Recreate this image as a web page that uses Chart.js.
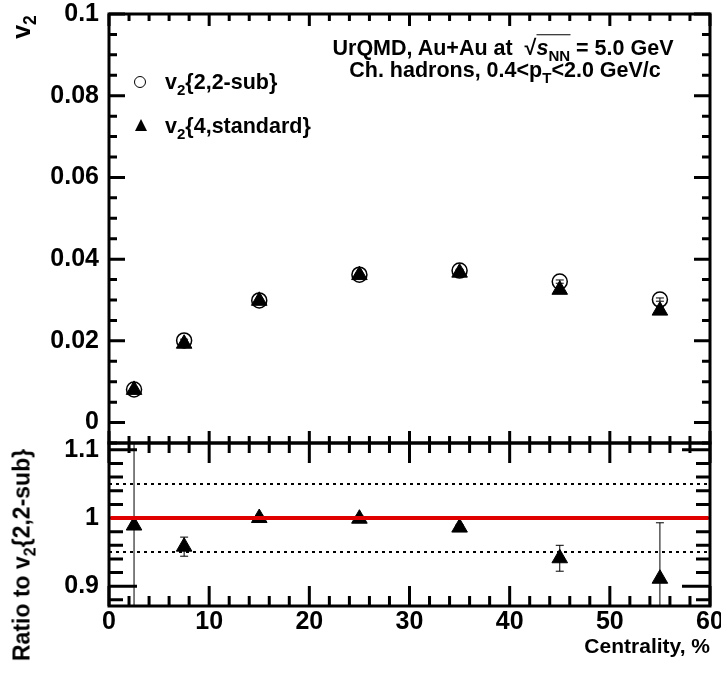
<!DOCTYPE html>
<html>
<head>
<meta charset="utf-8">
<script src="https://cdn.jsdelivr.net/npm/chart.js@4.4.0/dist/chart.umd.min.js"></script>
<style>
  body { margin: 0; background: #fff; }
  #wrap { position: relative; width: 721px; height: 678px; font-family: "Liberation Sans", Arial, sans-serif; font-weight: bold; color: #000; }
  canvas { position: absolute; left: 0; top: 0; }
  .lbl { position: absolute; white-space: nowrap; line-height: 1; }
  .lbl sub { font-size: 70%; vertical-align: -0.35em; line-height: 0; }
  .rot { transform: translate(-50%, -50%) rotate(-90deg); }
  .mid { transform: translate(-50%, -50%); }
  .left { transform: translate(0, -50%); }
  .circ { position: absolute; width: 10px; height: 10px; border: 1.5px solid #000; border-radius: 50%; transform: translate(-50%, -50%); }
  .tri { position: absolute; width: 0; height: 0; border-left: 6.5px solid transparent; border-right: 6.5px solid transparent; border-bottom: 12px solid #000; transform: translate(-50%, -50%); }
  .ov { border-top: 1.5px solid #000; padding-top: 1px; }
</style>
</head>
<body>
<div id="wrap">
  <canvas id="topc" width="721" height="678"></canvas>
  <canvas id="botc" width="721" height="678"></canvas>

  <div class="lbl rot" style="left:21px; top:27px; font-size:25px;">v<sub>2</sub></div>
  <div class="lbl rot" style="left:22px; top:555px; font-size:23px;">Ratio to v<sub>2</sub>{2,2-sub}</div>

  <div class="circ" style="left:140px; top:82px;"></div>
  <div class="lbl left" style="left:165px; top:83px; font-size:21.5px;">v<sub>2</sub>{2,2-sub}</div>
  <div class="tri" style="left:141px; top:125px;"></div>
  <div class="lbl left" style="left:165px; top:127px; font-size:21.5px;">v<sub>2</sub>{4,standard}</div>

  <div class="lbl mid" style="left:503px; top:49px; font-size:21.5px;">UrQMD, Au+Au at &nbsp;√<span class="ov"><i>s</i><sub>NN</sub></span> = 5.0 GeV</div>
  <div class="lbl mid" style="left:505px; top:71px; font-size:21.5px;">Ch. hadrons, 0.4&lt;p<sub>T</sub>&lt;2.0 GeV/c</div>
</div>

<script>
// centrality bins (%)
var centrality = [2.5, 7.5, 15, 25, 35, 45, 55];
// v2{2,2-sub}
var v2sub = [0.0081, 0.0201, 0.0299, 0.0362, 0.0372, 0.0345, 0.0301];
var v2subErr = [0.0003, 0.0003, 0.0003, 0.0003, 0.0003, 0.0004, 0.0004];
// v2{4,standard}
var v2four = [0.0080, 0.0193, 0.0298, 0.0361, 0.0367, 0.0325, 0.0274];
var v2fourErr = [0.0006, 0.0004, 0.0004, 0.0004, 0.0004, 0.0005, 0.0009];
// ratio v2{4}/v2{2,2-sub}
var ratio = [0.989, 0.958, 1.0, 0.999, 0.986, 0.941, 0.911];
var ratioErr = [0.15, 0.014, 0.004, 0.004, 0.004, 0.019, 0.082];

var xTicks = [0, 10, 20, 30, 40, 50, 60];
var topTicks = [0, 0.02, 0.04, 0.06, 0.08, 0.1];
var ratioTicks = [0.9, 1, 1.1];
var unityLine = [1];
var bandLines = [0.95, 1.05];

var font = { family: 'Liberation Sans', size: 25, weight: 'bold' };

function pts(ys) {
  return centrality.map(function (c, i) { return { x: c, y: ys[i] }; });
}

// ROOT style frame with inward ticks on all four sides
var rootFrame = {
  id: 'rootFrame',
  afterDraw: function (chart, args, o) {
    var ctx = chart.ctx, a = chart.chartArea, xs = chart.scales.x, ys = chart.scales.y;
    ctx.save();
    ctx.strokeStyle = '#000';
    ctx.lineWidth = 3;
    ctx.beginPath();
    var v, p, major, len;
    for (v = Math.ceil(xs.min / o.xMinor) * o.xMinor; v <= xs.max + 1e-9; v += o.xMinor) {
      p = xs.getPixelForValue(v);
      major = Math.abs(v / o.xMajor - Math.round(v / o.xMajor)) < 1e-6;
      len = major ? o.xMaj : o.xMin;
      ctx.moveTo(p, a.bottom); ctx.lineTo(p, a.bottom - len);
      ctx.moveTo(p, a.top); ctx.lineTo(p, a.top + len);
    }
    for (v = Math.ceil(ys.min / o.yMinor - 1e-6) * o.yMinor; v <= ys.max + 1e-9; v += o.yMinor) {
      p = ys.getPixelForValue(v);
      major = Math.abs(v / o.yMajor - Math.round(v / o.yMajor)) < 1e-6;
      len = major ? o.yMaj : o.yMin;
      ctx.moveTo(a.left, p); ctx.lineTo(a.left + len, p);
      ctx.moveTo(a.right, p); ctx.lineTo(a.right - len, p);
    }
    ctx.stroke();
    ctx.strokeRect(a.left, a.top, a.right - a.left, a.bottom - a.top);
    ctx.restore();
  }
};

function hLines(chart, list) {
  var ctx = chart.ctx, a = chart.chartArea, ys = chart.scales.y;
  (list || []).forEach(function (l) {
    l.values.forEach(function (val) {
      var p = ys.getPixelForValue(val);
      ctx.strokeStyle = l.color;
      ctx.lineWidth = l.width;
      ctx.setLineDash(l.dash || []);
      ctx.beginPath();
      ctx.moveTo(a.left, p); ctx.lineTo(a.right, p);
      ctx.stroke();
    });
  });
  ctx.setLineDash([]);
}

// vertical error bars and horizontal reference lines
var extras = {
  id: 'extras',
  beforeDatasetsDraw: function (chart, args, o) {
    var ctx = chart.ctx, a = chart.chartArea, ys = chart.scales.y;
    ctx.save();
    ctx.beginPath();
    ctx.rect(a.left, a.top, a.right - a.left, a.bottom - a.top);
    ctx.clip();
    hLines(chart, o.lines);
    ctx.strokeStyle = '#000';
    ctx.lineWidth = 1;
    chart.data.datasets.forEach(function (ds, i) {
      if (!ds.errors) return;
      chart.getDatasetMeta(i).data.forEach(function (el, j) {
        var val = ds.data[j].y, e = ds.errors[j];
        var y1 = ys.getPixelForValue(val + e), y2 = ys.getPixelForValue(val - e);
        ctx.beginPath();
        ctx.moveTo(el.x, y1); ctx.lineTo(el.x, y2);
        ctx.moveTo(el.x - 4, y1); ctx.lineTo(el.x + 4, y1);
        ctx.moveTo(el.x - 4, y2); ctx.lineTo(el.x + 4, y2);
        ctx.stroke();
      });
    });
    ctx.restore();
  },
  afterDraw: function (chart, args, o) {
    var a = chart.chartArea;
    chart.ctx.save();
    chart.ctx.beginPath();
    chart.ctx.rect(a.left + 1.5, a.top, a.right - a.left - 3, a.bottom - a.top);
    chart.ctx.clip();
    hLines(chart, o.topLines);
    chart.ctx.restore();
  }
};

function yAxis(min, max, ticks) {
  return {
    min: min, max: max,
    afterBuildTicks: function (s) { s.ticks = ticks.map(function (v) { return { value: v }; }); },
    afterFit: function (s) { s.width = 109; s.paddingTop = 0; s.paddingBottom = 0; },
    grid: { display: false, drawTicks: false },
    border: { display: false },
    ticks: { font: font, color: '#000', padding: 10, callback: function (v) { return String(+v.toFixed(3)); } }
  };
}

new Chart(document.getElementById('topc'), {
  type: 'scatter',
  data: {
    datasets: [
      { label: 'v2{4,standard}', data: pts(v2four), errors: v2fourErr, pointStyle: 'triangle', radius: 9,
        backgroundColor: '#000', borderColor: '#000', borderWidth: 1 },
      { label: 'v2{2,2-sub}', data: pts(v2sub), errors: v2subErr, pointStyle: 'circle', radius: 7.5,
        backgroundColor: 'rgba(0,0,0,0)', borderColor: '#000', borderWidth: 1.5 }
    ]
  },
  options: {
    responsive: false, animation: false, events: [],
    layout: { padding: { left: 0, right: 11, top: 14, bottom: 235 } },
    scales: {
      x: { type: 'linear', min: 0, max: 60, display: false },
      y: yAxis(-0.005, 0.1, topTicks)
    },
    plugins: {
      legend: { display: false }, tooltip: { enabled: false },
      rootFrame: { xMajor: 10, xMinor: 2, yMajor: 0.02, yMinor: 0.005, xMaj: 12, xMin: 7, yMaj: 16, yMin: 8 },
      extras: {}
    }
  },
  plugins: [rootFrame, extras]
});

new Chart(document.getElementById('botc'), {
  type: 'scatter',
  data: {
    datasets: [
      { label: 'ratio', data: pts(ratio), errors: ratioErr, pointStyle: 'triangle', radius: 9,
        backgroundColor: '#000', borderColor: '#000', borderWidth: 1 }
    ]
  },
  options: {
    responsive: false, animation: false, events: [],
    layout: { padding: { left: 0, right: 11, top: 443, bottom: 14 } },
    scales: {
      x: {
        type: 'linear', min: 0, max: 60,
        afterBuildTicks: function (s) { s.ticks = xTicks.map(function (v) { return { value: v }; }); },
        afterFit: function (s) { s.height = 58; s.paddingLeft = 0; s.paddingRight = 0; },
        grid: { display: false, drawTicks: false },
        border: { display: false },
        ticks: { font: font, color: '#000', padding: 1, maxRotation: 0 },
        title: { display: true, text: 'Centrality, %', align: 'end', color: '#000',
          font: { family: 'Liberation Sans', size: 21, weight: 'bold' }, padding: { top: 4, bottom: 4 } }
      },
      y: yAxis(0.871, 1.11, ratioTicks)
    },
    plugins: {
      legend: { display: false }, tooltip: { enabled: false },
      rootFrame: { xMajor: 10, xMinor: 2, yMajor: 0.1, yMinor: 0.02, xMaj: 20, xMin: 10, yMaj: 28, yMin: 14 },
      extras: {
        lines: [{ values: bandLines, color: '#000', width: 2, dash: [3, 4] }],
        topLines: [{ values: unityLine, color: '#e00000', width: 4 }]
      }
    }
  },
  plugins: [rootFrame, extras]
});
</script>
</body>
</html>
